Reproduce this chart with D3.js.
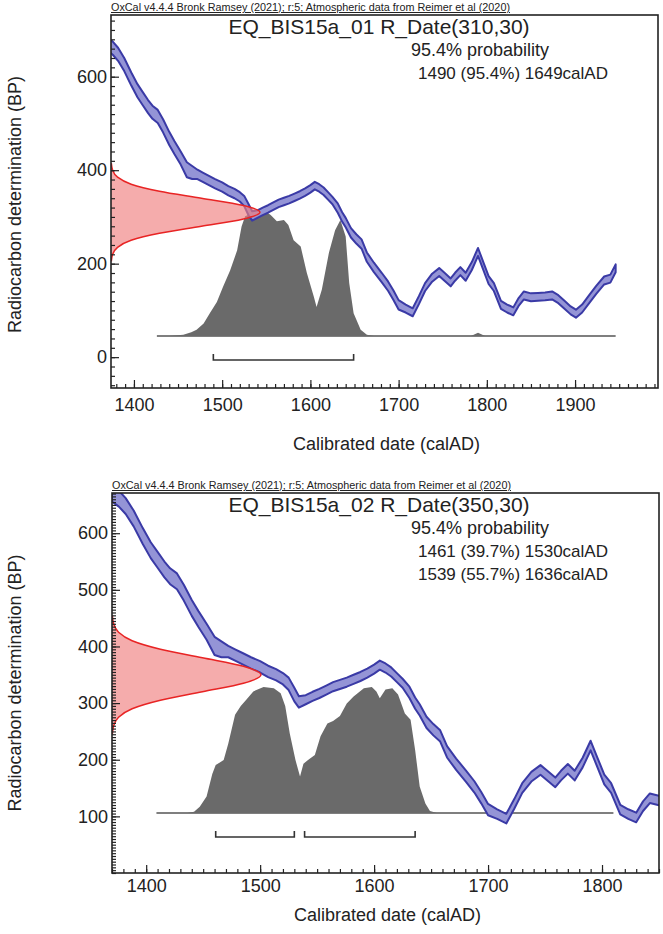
<!DOCTYPE html>
<html>
<head>
<meta charset="utf-8">
<script src="https://cdn.jsdelivr.net/npm/d3@7"></script>
<style>
  body { margin: 0; background: #fff; }
  text { font-family: "Liberation Sans", Arial, sans-serif; fill: #222; }
</style>
</head>
<body>
<div id="chart"></div>
<script>
// calibration curve: calAD, BP, 1 sigma
const calYears = [1370,1376,1382,1389,1397,1404,1410,1416,1421,1427,1433,1440,1446,1453,1460,1466,1472,1478,1485,1492,
  1500,1507,1514,1520,1525,1530,1534,1540,1546,1552,1558,1564,1570,1576,1582,1588,1594,1600,1605,1610,
  1615,1620,1625,1631,1636,1640,1646,1652,1658,1664,1672,1681,1688,1694,1700,1708,1716,1723,1730,1738,
  1746,1752,1759,1764,1770,1776,1783,1790,1796,1802,1808,1816,1823,1830,1836,1842,1850,1858,1866,1874,
  1881,1888,1895,1901,1908,1916,1924,1933,1940,1946];
const calBP = [670,661,648,626,595,570,553,536,524,515,495,468,448,426,401,395,391,385,378,371,
  364,356,350,343,334,315,302,306,312,317,323,329,333,337,342,347,353,360,367,362,
  355,345,335,319,300,288,266,253,242,214,192,170,152,133,112,104,96,122,150,170,
  182,172,160,172,184,172,195,225,195,165,150,112,104,98,118,132,128,129,130,132,
  124,112,100,93,104,124,144,164,168,190];
const calSigma = [14,14,14,14,14,14,14,14,14,14,14,14,14,14,16,14,10,10,10,10,
  10,10,10,10,11,12,10,8,8,8,8,8,8,8,8,8,8,8,8,8,
  8,8,8,10,10,10,10,10,10,10,10,10,10,10,10,8.5,8.5,8.5,8.5,8.5,
  8.5,8.5,8.5,8.5,8.5,8.5,8.5,8.5,8.5,8.5,8.5,8.5,8.5,8.5,8.5,8.5,8.5,8.5,8.5,8.5,
  8.5,8.5,8.5,8.5,8.5,8.5,8.5,8.5,8.5,8.5];

// shape of the measured date (offset in sd, relative width)
const rShapeZ = [-3.5,-3,-2.5,-2,-1.5,-1,-0.5,0,0.5,1,1.5,2,2.5,3,3.5];
const rShapeW = [0.002,0.011,0.044,0.135,0.325,0.607,0.882,1,0.882,0.607,0.325,0.135,0.044,0.011,0.002];

const header = "OxCal v4.4.4 Bronk Ramsey (2021); r:5; Atmospheric data from Reimer et al (2020)";

// sample 1
const s1Title = "EQ_BIS15a_01 R_Date(310,30)";
const s1Mean = 310, s1Sd = 30;
const s1Years = [1440,1456,1465,1471,1479,1486,1494,1501,1509,1517,1522,1526,1536,1547,1555,1562,1570,1575,1581,1589,
  1596,1604,1607,1613,1621,1628,1634,1640,1644,1649,1657,1664,1672,1782,1790,1798];
const s1Prob = [0,0.01,0.03,0.05,0.10,0.18,0.27,0.39,0.52,0.68,0.87,0.95,0.98,1.0,0.96,0.91,0.92,0.88,0.76,0.71,
  0.50,0.31,0.23,0.37,0.66,0.84,0.92,0.79,0.42,0.18,0.05,0.01,0,0,0.025,0];
const s1Ranges = [[1490,1649]];
const s1RangeText = ["1490 (95.4%) 1649calAD"];

// sample 2
const s2Title = "EQ_BIS15a_02 R_Date(350,30)";
const s2Mean = 350, s2Sd = 30;
const s2Years = [1436,1442,1447,1453,1458,1461,1468,1472,1478,1483,1488,1494,1503,1512,1518,1522,1526,1531,1535,1538,
  1542,1548,1553,1559,1564,1570,1576,1582,1591,1598,1602,1605,1610,1616,1621,1627,1632,1636,1640,1645,1649,1655];
const s2Prob = [0,0.01,0.05,0.13,0.31,0.38,0.42,0.55,0.78,0.85,0.90,0.965,1.0,0.99,0.95,0.85,0.63,0.42,0.29,0.39,
  0.42,0.46,0.61,0.71,0.73,0.77,0.87,0.925,0.99,1.0,0.965,0.91,0.98,0.99,0.94,0.79,0.74,0.50,0.21,0.075,0.016,0];
const s2Ranges = [[1461,1530],[1539,1636]];
const s2RangeText = ["1461 (39.7%) 1530calAD", "1539 (55.7%) 1636calAD"];

const panels = [
  { title: s1Title, mean: s1Mean, sd: s1Sd, years: s1Years, prob: s1Prob, ranges: s1Ranges, rangeText: s1RangeText,
    left: 111, right: 658, top: 15, bottom: 388, xDomain: [1374, 1994], yDomain: [-66, 732],
    yMajor: 200, yMinor: 20, yFirst: 0, calEnd: 1946, base: [1426, 1946], baseUp: 52, bracketUp: 28, xPad: 10 },
  { title: s2Title, mean: s2Mean, sd: s2Sd, years: s2Years, prob: s2Prob, ranges: s2Ranges, rangeText: s2RangeText,
    left: 112, right: 659, top: 493, bottom: 873, xDomain: [1370, 1850], yDomain: [0, 671],
    yMajor: 100, yMinor: 5, yFirst: 100, calEnd: 1950, base: [1409, 1810], baseUp: 60, bracketUp: 36, xPad: 6 }
];

const width = 663, height = 934;
const svg = d3.select("#chart").append("svg")
  .attr("width", width)
  .attr("height", height);

const cal = calYears.map((d, i) => ({ yr: d, bp: calBP[i], s: calSigma[i] }));

panels.forEach((p, pi) => drawPanel(p, pi));

function drawPanel(p, pi) {
  const x = d3.scaleLinear().domain(p.xDomain).range([p.left, p.right]);
  const y = d3.scaleLinear().domain(p.yDomain).range([p.bottom, p.top]);
  const g = svg.append("g");

  g.append("clipPath").attr("id", "clip" + pi)
    .append("rect")
    .attr("x", p.left).attr("y", p.top)
    .attr("width", p.right - p.left).attr("height", p.bottom - p.top);

  const inner = g.append("g").attr("clip-path", "url(#clip" + pi + ")");

  // posterior, on its own small scale above the bottom of the frame
  const yp = d3.scaleLinear().domain([0, 1])
    .range([p.bottom - p.baseUp, p.bottom - p.baseUp - 126]);
  const post = p.years.map((d, i) => ({ yr: d, v: p.prob[i] }));

  inner.append("line")
    .attr("x1", x(p.base[0])).attr("x2", x(p.base[1]))
    .attr("y1", yp(0)).attr("y2", yp(0))
    .attr("stroke", "#555").attr("stroke-width", 1.3);

  inner.append("path")
    .datum(post)
    .attr("d", d3.area().x(d => x(d.yr)).y0(yp(0)).y1(d => yp(d.v)).curve(d3.curveLinear))
    .attr("fill", "#6a6a6a");

  // calibration band
  const calP = cal.filter(d => d.yr <= p.calEnd);
  inner.append("path")
    .datum(calP)
    .attr("d", d3.area().x(d => x(d.yr)).y0(d => y(d.bp - d.s)).y1(d => y(d.bp + d.s)))
    .attr("fill", "#9494d6")
    .attr("stroke", "#3a3aa6")
    .attr("stroke-width", 2)
    .attr("stroke-linejoin", "round");

  // measured date on the y axis
  const wx = d3.scaleLinear().domain([0, 1]).range([p.left, p.left + 149]);
  const rd = rShapeZ.map((z, i) => ({ bp: p.mean + z * p.sd, w: rShapeW[i] }));
  inner.append("path")
    .datum(rd)
    .attr("d", d3.area().y(d => y(d.bp)).x0(wx(0)).x1(d => wx(d.w)).curve(d3.curveMonotoneY))
    .attr("fill", "#f08080")
    .attr("fill-opacity", 0.65);
  inner.append("path")
    .datum(rd)
    .attr("d", d3.line().y(d => y(d.bp)).x(d => wx(d.w)).curve(d3.curveMonotoneY))
    .attr("fill", "none")
    .attr("stroke", "#e82424")
    .attr("stroke-width", 1.5);

  // range brackets
  const by = p.bottom - p.bracketUp;
  p.ranges.forEach(r => {
    g.append("path")
      .attr("d", `M${x(r[0])},${by - 6}V${by}H${x(r[1])}V${by - 6}`)
      .attr("fill", "none")
      .attr("stroke", "#333")
      .attr("stroke-width", 1.6);
  });

  // axes, ticks pointing inwards
  const yMaj = d3.range(p.yFirst, p.yDomain[1] + 1, p.yMajor);
  const yMin = d3.range(Math.ceil(p.yDomain[0] / p.yMinor) * p.yMinor, p.yDomain[1] + 1, p.yMinor);
  const xMaj = d3.range(Math.ceil(p.xDomain[0] / 100) * 100, p.xDomain[1] + 1, 100);
  const xMin = d3.range(Math.ceil(p.xDomain[0] / 10) * 10, p.xDomain[1] + 1, 10);

  g.append("g").attr("transform", `translate(${p.left},0)`)
    .call(d3.axisLeft(y).tickValues(yMin).tickSize(-4).tickFormat(""));
  g.append("g").attr("transform", `translate(${p.left},0)`)
    .call(d3.axisLeft(y).tickValues(yMaj).tickSize(-8).tickPadding(4).tickFormat(d3.format("d")));

  g.append("g").attr("transform", `translate(0,${p.bottom})`)
    .call(d3.axisBottom(x).tickValues(xMin).tickSize(-4).tickFormat(""));
  g.append("g").attr("transform", `translate(0,${p.bottom})`)
    .call(d3.axisBottom(x).tickValues(xMaj).tickSize(-8).tickPadding(p.xPad).tickFormat(d3.format("d")));

  g.selectAll(".domain").remove();
  g.selectAll(".tick line").attr("stroke", "#222").attr("stroke-width", 1.2);
  g.selectAll(".tick text")
    .attr("font-size", 18)
    .attr("font-family", "Liberation Sans, Arial, sans-serif")
    .attr("fill", "#222");

  g.append("rect")
    .attr("x", p.left).attr("y", p.top)
    .attr("width", p.right - p.left).attr("height", p.bottom - p.top)
    .attr("fill", "none")
    .attr("stroke", "#222")
    .attr("stroke-width", 1.6);

  // texts
  g.append("text")
    .attr("x", p.left).attr("y", p.top - 4)
    .attr("font-size", 10)
    .attr("textLength", 399)
    .attr("lengthAdjust", "spacingAndGlyphs")
    .style("text-decoration", "underline")
    .text(header);

  g.append("text")
    .attr("x", 379).attr("y", p.top + 19)
    .attr("text-anchor", "middle")
    .attr("font-size", 21)
    .text(p.title);

  g.append("text")
    .attr("x", 411).attr("y", p.top + 41)
    .attr("font-size", 18)
    .text("95.4% probability");

  p.rangeText.forEach((t, i) => {
    g.append("text")
      .attr("x", 418).attr("y", p.top + 64 + i * 23)
      .attr("font-size", 17)
      .text(t);
  });

  g.append("text")
    .attr("x", (p.left + p.right) / 2 + 2)
    .attr("y", p.bottom + (pi == 0 ? 62 : 48))
    .attr("text-anchor", "middle")
    .attr("font-size", 18)
    .text("Calibrated date (calAD)");

  g.append("text")
    .attr("transform", `translate(21,${(p.top + p.bottom) / 2 + (pi == 0 ? 3 : 0)}) rotate(-90)`)
    .attr("text-anchor", "middle")
    .attr("font-size", 18)
    .text("Radiocarbon determination (BP)");
}
</script>
</body>
</html>
